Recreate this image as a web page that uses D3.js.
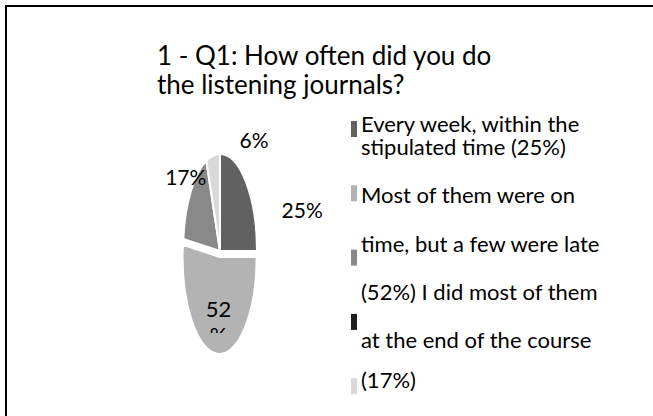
<!DOCTYPE html>
<html>
<head>
<meta charset="utf-8">
<script src="https://cdn.jsdelivr.net/npm/d3@7"></script>
<style>
  body { margin: 0; background: #fff; }
  text { font-family: Lato, "Open Sans", sans-serif; fill: #000; }
</style>
</head>
<body>
<div id="main"></div>
<script>
// data

const titleLines = ['1 - Q1: How often did you do', 'the listening journals?'];
const categories = [
    'Every week, within the stipulated time',
    'Most of them were on time, but a few were late',
    'I did most of them at the end of the course',
    '',
    ''
];
const values = [25, 52, 17, 0, 6];
const colors = ['#616161', '#b3b3b3', '#898989', '#1f1f1f', '#d9d9d9'];
// legend text as it wraps in the picture
const legendLines = [
    'Every week, within the',
    'stipulated time (25%)',
    'Most of them were on',
    'time, but a few were late',
    '(52%) I did most of them',
    'at the end of the course',
    '(17%)'
];

// SVG

const w = 653;
const h = 416;

const svg = d3.select('#main')
    .append('svg')
    .attr('width', w)
    .attr('height', h)

svg.append('rect')
    .attr('x', 6)
    .attr('y', 6)
    .attr('width', 700)
    .attr('height', 500)
    .attr('fill', 'none')
    .attr('stroke', '#000')
    .attr('stroke-width', 2)

// title

svg.selectAll('.title')
    .data(titleLines)
    .enter()
    .append('text')
    .attr('class', 'title')
    .attr('x', 157)
    .attr('y', (d, i) => 65 + i * 29)
    .style('font-size', '26px')
    .text(d => d)

// pie (drawn as a circle, squashed into an ellipse)

const cx = 220;
const cy = 251;
const rx = 37;
const ry = 97;
const explode = 6;

const pie = d3.pie().sort(null).value(d => d)
const arcs = pie(values)
const arc = d3.arc().innerRadius(0).outerRadius(ry)

const pieG = svg.append('g')
    .attr('transform', `translate(${cx}, ${cy})`)

pieG.selectAll('path')
    .data(arcs.filter(d => d.value > 0))
    .enter()
    .append('path')
    .attr('d', arc)
    .attr('fill', d => colors[d.index])
    .attr('stroke', '#fff')
    .attr('stroke-width', 2)
    .attr('vector-effect', 'non-scaling-stroke')
    .attr('transform', d => {
        let off = d.index == 1 ? explode : 0;
        let mid = (d.startAngle + d.endAngle) / 2;
        return `translate(${Math.sin(mid) * off}, ${-Math.cos(mid) * off}) scale(${rx / ry}, 1)`
    })

// data labels

const labelNudge = [[56, 29], [0, 0], [-5, -14], [0, 0], [41, -15]];

const labelPos = (d) => {
    let mid = (d.startAngle + d.endAngle) / 2;
    if (d.index == 1) {
        return [Math.sin(mid) * rx * 0.6, -Math.cos(mid) * ry * 0.6 + explode];
    }
    let n = labelNudge[d.index];
    return [Math.sin(mid) * rx + n[0], -Math.cos(mid) * ry + n[1]];
}

const defs = svg.append('defs')
defs.append('clipPath')
    .attr('id', 'clip52')
    .append('rect')
    .attr('x', cx - 30)
    .attr('y', cy + 40)
    .attr('width', 60)
    .attr('height', 42)

arcs.filter(d => d.value > 0).forEach(d => {
    let p = labelPos(d);
    if (d.index == 1) {
        let t = svg.append('text')
            .attr('clip-path', 'url(#clip52)')
            .attr('text-anchor', 'middle')
            .style('font-size', '22px')
        t.append('tspan').attr('x', cx + p[0]).attr('y', cy + p[1] + 2).text(d.value)
        t.append('tspan').attr('x', cx + p[0]).attr('y', cy + p[1] + 28).text('%')
    } else {
        pieG.append('text')
            .attr('x', p[0])
            .attr('y', p[1] + 7)
            .attr('text-anchor', 'middle')
            .style('font-size', '21px')
            .text(d.value + '%')
    }
})

// legend

const legend = svg.append('g')

legend.selectAll('rect')
    .data(categories)
    .enter()
    .append('rect')
    .attr('x', 351)
    .attr('y', (d, i) => 121 + i * 64.3)
    .attr('width', 6)
    .attr('height', 16)
    .attr('fill', (d, i) => colors[i])

const lineY = (i) => i == 0 ? 132 : i == 1 ? 155 : i < 6 ? 155 + (i - 1) * 48.3 : 388;

legend.selectAll('text')
    .data(legendLines)
    .enter()
    .append('text')
    .attr('x', 361)
    .attr('y', (d, i) => lineY(i))
    .style('font-size', '22px')
    .text(d => d)
</script>
</body>
</html>
